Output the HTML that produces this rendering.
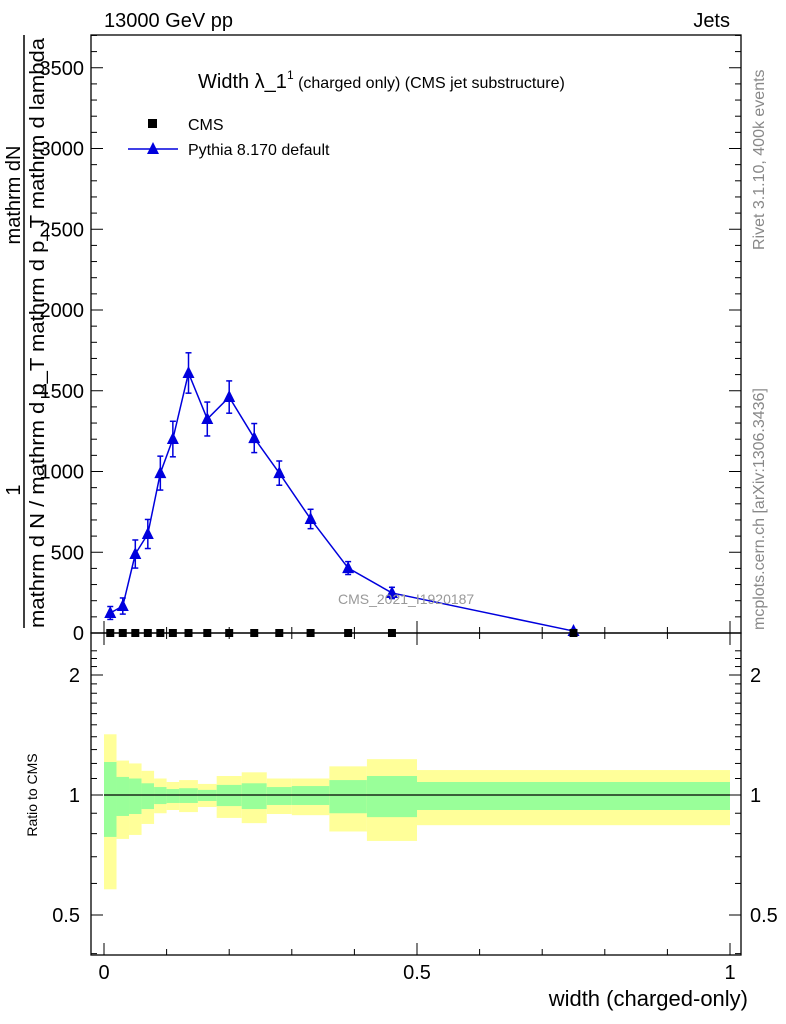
<!DOCTYPE html>
<html><head><meta charset="utf-8"><style>
body{margin:0;background:#fff}
svg{display:block;font-family:"Liberation Sans",sans-serif}
</style></head><body>
<svg id="c" width="786" height="1024" viewBox="0 0 786 1024">
<g id="g"></g>
</svg>
<script>
const edges=[0,0.02,0.04,0.06,0.08,0.1,0.12,0.15,0.18,0.22,0.26,0.3,0.36,0.42,0.5,1.0];
const mids=[0.01,0.03,0.05,0.07,0.09,0.11,0.135,0.165,0.2,0.24,0.28,0.33,0.39,0.46,0.75];
const mcVals=[124,167,489,613,990,1201,1610,1325,1461,1207,990,706,402,248,12];
const mcErrs=[40,50,87,90,105,110,125,105,100,90,75,60,40,35,10];
const cmsVals=[0,0,0,0,0,0,0,0,0,0,0,0,0,0,0];
const yelHi=[1.42,1.22,1.20,1.15,1.10,1.078,1.09,1.066,1.116,1.14,1.10,1.10,1.18,1.23,1.155];
const grnHi=[1.21,1.11,1.10,1.07,1.047,1.035,1.04,1.03,1.06,1.07,1.047,1.053,1.09,1.116,1.078];
const grnLo=[0.785,0.886,0.896,0.922,0.949,0.955,0.955,0.966,0.938,0.922,0.944,0.944,0.90,0.88,0.917];
const yelLo=[0.58,0.776,0.794,0.846,0.90,0.917,0.906,0.933,0.876,0.85,0.896,0.89,0.81,0.767,0.84];
const yTicks=[0,500,1000,1500,2000,2500,3000,3500];
const rTicks=[0.5,1,2];
const xTicks=[0,0.5,1];

const NS="http://www.w3.org/2000/svg";
const g=document.getElementById('g');
function el(t,a,p){const e=document.createElementNS(NS,t);for(const k in a)e.setAttribute(k,a[k]);(p||g).appendChild(e);return e;}
const L=91,R=741,T=35,M=633,B=955;
const X=v=>104+626*v;
const Y=v=>633-0.1615*v;
const RY=r=>795-120*Math.log2(r);

for(let i=0;i<mids.length;i++){
 let e=el('rect',{x:X(edges[i]),y:RY(yelHi[i]),width:X(edges[i+1])-X(edges[i]),height:RY(yelLo[i])-RY(yelHi[i]),fill:'#ffff99'});
 
 
 e=el('rect',{x:X(edges[i]),y:RY(grnHi[i]),width:X(edges[i+1])-X(edges[i]),height:RY(grnLo[i])-RY(grnHi[i]),fill:'#99ff99'});
 
 
}
let ln=el('line',{x1:X(edges[0]),x2:X(1),y1:RY(1),y2:RY(1),stroke:'#000','stroke-width':1.3});



let f=el('rect',{x:L,y:T,width:R-L,height:M-T,fill:'none',stroke:'#000','stroke-width':1.3});

f=el('rect',{x:L,y:M,width:R-L,height:B-M,fill:'none',stroke:'#000','stroke-width':1.3});


for(let v=0;v<=3700;v+=100){const y=Y(v);if(y<T)break;const big=v%500===0;
 el('line',{x1:L,x2:L+(big?12:6),y1:y,y2:y,stroke:'#000'});el('line',{x1:R,x2:R-(big?12:6),y1:y,y2:y,stroke:'#000'});}
yTicks.forEach(v=>{const t=el('text',{x:84,y:Y(v)+7,'text-anchor':'end','font-size':20});t.textContent=v;
 });
for(let r=0.4;r<=2.31;r+=0.1){const y=RY(r);if(y<M||y>B)continue;const big=[0.5,1,2].some(q=>Math.abs(q-r)<1e-6);
 el('line',{x1:L,x2:L+(big?12:6),y1:y,y2:y,stroke:'#000'});el('line',{x1:R,x2:R-(big?12:6),y1:y,y2:y,stroke:'#000'});}
rTicks.forEach(r=>{let t=el('text',{x:80,y:RY(r)+7,'text-anchor':'end','font-size':20});t.textContent=r;
 
 t=el('text',{x:750,y:RY(r)+7,'font-size':20});t.textContent=r;
 });
for(let i=0;i<=10;i++){const v=i/10;const x=X(v);const big=i%5===0;
 [[M,M-(big?12:6)],[B,B-(big?12:6)],[M,M+(big?12:6)]].forEach(p=>el('line',{x1:x,x2:x,y1:p[0],y2:p[1],stroke:'#000'}));}
xTicks.forEach(v=>{const t=el('text',{x:X(v),y:979,'text-anchor':'middle','font-size':20});t.textContent=v;
 });

let pts=mids.map((m,i)=>X(m)+','+Y(mcVals[i])).join(' ');
let pl=el('polyline',{points:pts,fill:'none',stroke:'#0000dd','stroke-width':1.5});

mids.forEach((m,i)=>{const x=X(m),y=Y(mcVals[i]),y1=Y(mcVals[i]+mcErrs[i]),y2=Y(Math.max(0,mcVals[i]-mcErrs[i]));
 el('line',{x1:x,x2:x,y1:y1,y2:y2,stroke:'#0000dd','stroke-width':1.5});
 el('line',{x1:x-3,x2:x+3,y1:y1,y2:y1,stroke:'#0000dd','stroke-width':1.5});
 el('line',{x1:x-3,x2:x+3,y1:y2,y2:y2,stroke:'#0000dd','stroke-width':1.5});
 const p=el('polygon',{points:`${x-6},${y+5} ${x+6},${y+5} ${x},${y-7}`,fill:'#0000dd'});
 
 const s=el('rect',{x:X(m)-4,y:Y(cmsVals[i])-4,width:8,height:8,fill:'#000'});
 
});
</script>
<svg style="position:absolute;left:0;top:0" width="786" height="1024">
<text x="104" y="27" font-size="20">13000 GeV pp</text>
<text x="730" y="27" font-size="20" text-anchor="end">Jets</text>
<text x="198" y="88" font-size="20">Width λ_1<tspan font-size="12" dy="-9">1</tspan><tspan font-size="16" dy="9"> (charged only) (CMS jet substructure)</tspan></text>
<rect x="148" y="119" width="9" height="9" fill="#000"/>
<text x="188" y="130" font-size="16">CMS</text>
<line x1="128" x2="178" y1="149" y2="149" stroke="#0000dd" stroke-width="1.5"/>
<polygon points="147,154 159,154 153,142" fill="#0000dd"/>
<text x="188" y="155" font-size="16">Pythia 8.170 default</text>
<text x="338" y="604" font-size="14" fill="#999">CMS_2021_I1920187</text>
<text transform="translate(20,195) rotate(-90)" font-size="20" text-anchor="middle">mathrm dN</text>
<line x1="24" x2="24" y1="35" y2="628" stroke="#000" stroke-width="1.5"/>
<text transform="translate(20,490) rotate(-90)" font-size="20" text-anchor="middle">1</text>
<text transform="translate(44,628) rotate(-90)" font-size="20" textLength="590" lengthAdjust="spacingAndGlyphs">mathrm d N / mathrm d p_T mathrm d p_T mathrm d lambda</text>
<text transform="translate(37,795) rotate(-90)" font-size="14" text-anchor="middle">Ratio to CMS</text>
<text x="748" y="1006" font-size="22" text-anchor="end">width (charged-only)</text>
<text transform="translate(764,250) rotate(-90)" font-size="16" fill="#888">Rivet 3.1.10,  400k events</text>
<text transform="translate(764,630) rotate(-90)" font-size="16" fill="#888">mcplots.cern.ch [arXiv:1306.3436]</text>
</svg>
</body></html>
